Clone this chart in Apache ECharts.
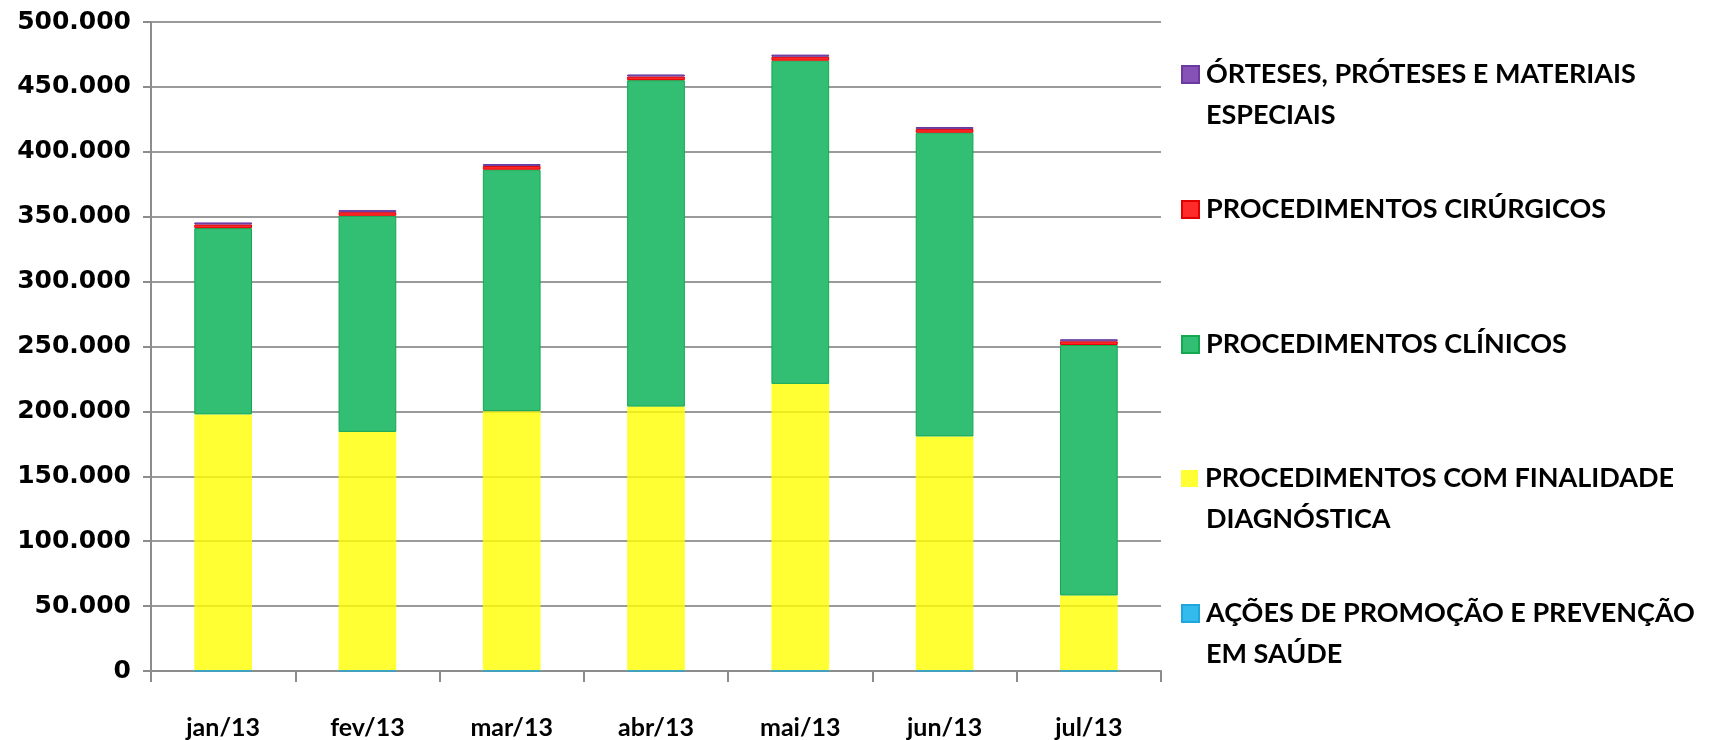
<!DOCTYPE html>
<html>
<head>
<meta charset="utf-8">
<script src="https://cdn.jsdelivr.net/npm/echarts@6/dist/echarts.min.js"></script>
<style>html,body{margin:0;padding:0;background:#fff}#c{width:1725px;height:740px}</style>
</head>
<body>
<div id="c"></div>
<script>
const categories = ['jan/13','fev/13','mar/13','abr/13','mai/13','jun/13','jul/13'];
const acoes = [200, 200, 200, 200, 200, 200, 200];
const diagnostica = [197500, 184000, 200000, 203500, 221000, 180500, 58000];
const clinicos = [143500, 166500, 186000, 251500, 249000, 234000, 193000];
const cirurgicos = [2800, 2800, 2800, 2800, 3000, 2800, 2800];
const orteses = [1600, 1600, 1600, 1600, 1700, 1600, 1600];
const yTicks = [0, 50000, 100000, 150000, 200000, 250000, 300000, 350000, 400000, 450000, 500000];

const names = [
  ['AÇÕES DE PROMOÇÃO E PREVENÇÃO', 'EM SAÚDE'],
  ['PROCEDIMENTOS COM FINALIDADE', 'DIAGNÓSTICA'],
  ['PROCEDIMENTOS CLÍNICOS'],
  ['PROCEDIMENTOS CIRÚRGICOS'],
  ['ÓRTESES, PRÓTESES E MATERIAIS', 'ESPECIAIS']
];
const seriesData = [acoes, diagnostica, clinicos, cirurgicos, orteses];
const colors = ['#33bbee', 'rgba(255,255,0,0.8)', '#33bf73', '#ff2a2a', '#8652b8'];
const borders = ['#1ea6dd', 'rgba(255,255,0,0)', '#14a850', '#e00000', '#6a3a9e'];
const legendY = [614, 479, 345, 210, 75];

const FONT = 'Lato';
const chart = echarts.init(document.getElementById('c'));
const fullName = n => n.join(' ');

const legends = names.map((n, i) => ({
  data: [{ name: fullName(n), icon: 'rect' }],
  left: 1176,
  top: legendY[i] - 19,
  itemWidth: 17,
  itemHeight: 17,
  itemGap: 0,
  selectedMode: false,
  formatter: () => n[0],
  textStyle: { fontFamily: FONT, fontWeight: 'bold', fontSize: 27, color: '#000', padding: [0, 0, 0, 2] }
}));

const graphics = [];
names.forEach((n, i) => {
  if (n.length > 1) {
    graphics.push({
      type: 'text', left: 1206, top: legendY[i] + 27,
      style: { text: n[1], fontFamily: FONT, fontWeight: 'bold', fontSize: 27, fill: '#000' }
    });
  }
});

chart.setOption({
  animation: false,
  grid: { left: 151, right: 564, top: 22, bottom: 68, containLabel: false },
  legend: legends,
  graphic: graphics,
  xAxis: {
    type: 'category',
    data: categories,
    boundaryGap: true,
    axisLine: { lineStyle: { color: '#8c8c8c', width: 2 } },
    axisTick: { show: true, length: 11, alignWithLabel: false, lineStyle: { color: '#8c8c8c', width: 2 } },
    axisLabel: { margin: 44, fontFamily: FONT, fontWeight: 'bold', fontSize: 25, color: '#000' }
  },
  yAxis: {
    type: 'value',
    min: 0, max: 500000, interval: 50000,
    axisLine: { show: true, lineStyle: { color: '#8c8c8c', width: 2 } },
    axisTick: { show: true, length: 8, lineStyle: { color: '#8c8c8c', width: 2 } },
    splitLine: { lineStyle: { color: '#9a9a9a', width: 2 } },
    axisLabel: {
      margin: 20, fontFamily: 'DejaVu Sans', fontWeight: 'bold', fontSize: 25, color: '#000',
      formatter: v => yTicks.includes(v) ? (v === 0 ? '0' : v.toLocaleString('de-DE')) : ''
    }
  },
  series: names.map((n, i) => ({
    name: fullName(n),
    type: 'bar',
    stack: 'total',
    data: seriesData[i],
    barWidth: '40%',
    z: i === 1 ? 1 : 2,
    itemStyle: { color: colors[i], borderColor: borders[i], borderWidth: i === 1 ? 0 : 1 }
  }))
});
</script>
</body>
</html>
